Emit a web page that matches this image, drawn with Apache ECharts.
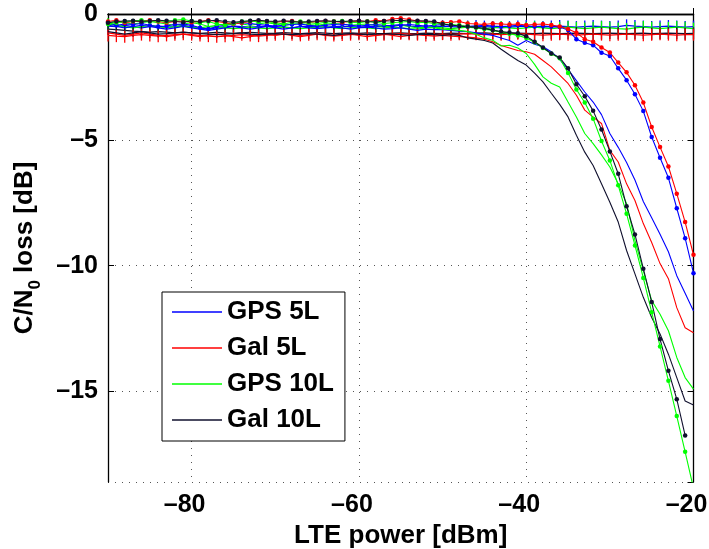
<!DOCTYPE html>
<html>
<head>
<meta charset="utf-8">
<script src="https://cdn.jsdelivr.net/npm/echarts@6/dist/echarts.min.js"></script>
<style>
html,body{margin:0;padding:0;background:#fff;}
#chart{width:709px;height:549px;}
</style>
</head>
<body>
<div id="chart"></div>
<script>
// LTE power axis (dBm)
const power = [-90,-89,-88,-87,-86,-85,-84,-83,-82,-81,
  -80,-79,-78,-77,-76,-75,-74,-73,-72,-71,
  -70,-69,-68,-67,-66,-65,-64,-63,-62,-61,
  -60,-59,-58,-57,-56,-55,-54,-53,-52,-51,
  -50,-49,-48,-47,-46,-45,-44,-43,-42,-41,
  -40,-39,-38,-37,-36,-35,-34,-33,-32,-31,
  -30,-29,-28,-27,-26,-25,-24,-23,-22,-21,
  -20];

const xTicks = [-80, -60, -40, -20];
const yTicks = [0, -5, -10, -15];
const legendNames = ['GPS 5L', 'Gal 5L', 'GPS 10L', 'Gal 10L'];

// plain curves (legend entries)
const gps5L = [-0.45,-0.50,-0.55,-0.50,-0.45,-0.50,-0.55,-0.60,-0.55,-0.50,
  -0.55,-0.60,-0.65,-0.60,-0.55,-0.50,-0.55,-0.60,-0.55,-0.50,
  -0.55,-0.60,-0.55,-0.50,-0.55,-0.58,-0.55,-0.52,-0.55,-0.60,
  -0.55,-0.52,-0.55,-0.60,-0.58,-0.55,-0.60,-0.65,-0.60,-0.62,
  -0.62,-0.65,-0.68,-0.70,-0.75,-0.80,-0.85,-0.95,-1.05,-1.24,
  -1.05,-1.20,-1.30,-1.50,-1.80,-2.20,-2.65,-3.10,-3.50,-4.00,
  -4.75,-5.30,-5.90,-6.60,-7.45,-8.10,-8.75,-9.45,-10.40,-11.10,
  -11.80];
const gal5L = [-0.75,-0.80,-0.85,-0.80,-0.75,-0.80,-0.85,-0.90,-0.85,-0.80,
  -0.85,-0.90,-0.85,-0.80,-0.85,-0.90,-0.95,-0.90,-0.85,-0.80,
  -0.85,-0.80,-0.85,-0.90,-0.85,-0.80,-0.85,-0.88,-0.85,-0.80,
  -0.85,-0.90,-0.85,-0.80,-0.85,-0.90,-0.85,-0.80,-0.85,-0.88,
  -0.85,-0.88,-0.90,-0.92,-0.95,-1.00,-1.10,-1.25,-1.35,-1.45,
  -1.50,-1.60,-1.85,-2.10,-2.43,-2.76,-3.23,-3.82,-4.10,-4.35,
  -5.42,-5.88,-6.75,-7.41,-8.33,-9.08,-9.92,-10.52,-11.67,-12.47,
  -12.67];
const gps10L = [-0.35,-0.30,-0.35,-0.40,-0.35,-0.30,-0.35,-0.40,-0.45,-0.40,
  -0.35,-0.40,-0.50,-0.45,-0.40,-0.35,-0.40,-0.45,-0.40,-0.35,
  -0.40,-0.45,-0.40,-0.38,-0.42,-0.45,-0.40,-0.38,-0.40,-0.45,
  -0.42,-0.40,-0.45,-0.50,-0.48,-0.45,-0.50,-0.55,-0.52,-0.55,
  -0.60,-0.62,-0.65,-0.70,-0.80,-0.95,-1.04,-1.27,-1.24,-1.35,
  -1.57,-2.00,-2.50,-2.75,-2.90,-3.50,-4.09,-4.75,-5.15,-5.60,
  -6.08,-6.75,-7.54,-9.00,-10.20,-11.39,-11.93,-12.59,-13.65,-14.45,
  -14.91];
const gal10L = [-0.70,-0.75,-0.80,-0.75,-0.70,-0.75,-0.80,-0.78,-0.75,-0.72,
  -0.75,-0.78,-0.80,-0.82,-0.80,-0.78,-0.75,-0.80,-0.82,-0.80,
  -0.78,-0.80,-0.82,-0.80,-0.78,-0.80,-0.82,-0.85,-0.80,-0.78,
  -0.80,-0.82,-0.80,-0.78,-0.80,-0.82,-0.85,-0.82,-0.80,-0.82,
  -0.85,-0.82,-0.85,-0.95,-1.00,-1.05,-1.15,-1.40,-1.63,-1.85,
  -2.03,-2.35,-2.70,-3.15,-3.59,-4.09,-4.82,-5.49,-6.02,-6.75,
  -7.48,-8.27,-9.40,-10.33,-11.26,-12.06,-12.72,-13.52,-14.45,-15.38,
  -15.54];

// curves with dot markers
const gps5LDots = [-0.35,-0.45,-0.40,-0.42,-0.38,-0.45,-0.50,-0.48,-0.42,-0.40,
  -0.45,-0.55,-0.60,-0.50,-0.45,-0.40,-0.35,-0.38,-0.42,-0.45,
  -0.48,-0.45,-0.42,-0.40,-0.45,-0.48,-0.45,-0.42,-0.40,-0.45,
  -0.48,-0.45,-0.42,-0.45,-0.48,-0.45,-0.42,-0.45,-0.48,-0.45,
  -0.42,-0.45,-0.48,-0.50,-0.48,-0.45,-0.48,-0.50,-0.48,-0.45,
  -0.48,-0.50,-0.48,-0.50,-0.52,-0.64,-1.00,-1.14,-1.24,-1.54,
  -1.67,-2.16,-2.63,-3.19,-3.86,-4.89,-5.71,-6.51,-7.72,-8.91,
  -10.30];
const gal5LDots = [-0.30,-0.25,-0.35,-0.30,-0.28,-0.25,-0.30,-0.35,-0.30,-0.28,
  -0.33,-0.30,-0.25,-0.30,-0.35,-0.40,-0.35,-0.30,-0.28,-0.30,
  -0.33,-0.30,-0.28,-0.32,-0.35,-0.30,-0.28,-0.30,-0.33,-0.30,
  -0.28,-0.30,-0.25,-0.28,-0.20,-0.17,-0.22,-0.28,-0.30,-0.33,
  -0.35,-0.33,-0.30,-0.38,-0.40,-0.42,-0.38,-0.40,-0.42,-0.40,
  -0.44,-0.42,-0.40,-0.44,-0.50,-0.60,-0.75,-1.00,-1.10,-1.33,
  -1.53,-1.93,-2.32,-2.83,-3.52,-4.49,-5.29,-6.06,-7.14,-8.27,
  -9.57];
const gps10LDots = [-0.40,-0.35,-0.30,-0.28,-0.25,-0.30,-0.27,-0.30,-0.25,-0.22,
  -0.28,-0.35,-0.30,-0.40,-0.45,-0.38,-0.30,-0.28,-0.32,-0.30,
  -0.35,-0.40,-0.33,-0.30,-0.35,-0.38,-0.33,-0.30,-0.28,-0.33,
  -0.35,-0.30,-0.33,-0.38,-0.35,-0.32,-0.30,-0.35,-0.33,-0.38,
  -0.40,-0.42,-0.45,-0.50,-0.55,-0.60,-0.65,-0.72,-0.78,-0.85,
  -0.95,-1.12,-1.35,-1.58,-1.76,-2.34,-3.00,-3.52,-4.16,-5.05,
  -5.82,-6.81,-7.94,-9.20,-10.49,-11.85,-13.21,-14.58,-15.98,-17.40,
  -18.85];
const gal10LDots = [-0.35,-0.30,-0.28,-0.27,-0.30,-0.28,-0.25,-0.27,-0.30,-0.33,
  -0.28,-0.30,-0.27,-0.25,-0.30,-0.33,-0.30,-0.27,-0.25,-0.28,
  -0.30,-0.27,-0.30,-0.33,-0.30,-0.28,-0.27,-0.30,-0.30,-0.28,
  -0.27,-0.30,-0.32,-0.28,-0.27,-0.25,-0.28,-0.27,-0.28,-0.30,
  -0.40,-0.44,-0.48,-0.50,-0.53,-0.57,-0.64,-0.70,-0.74,-0.77,
  -0.88,-1.10,-1.33,-1.57,-1.73,-2.16,-2.79,-3.27,-3.85,-4.59,
  -5.46,-6.35,-7.64,-8.76,-10.12,-11.45,-12.92,-14.18,-15.31,-16.75,
  null];

// flat reference curves with vertical '+' marks
const gps5LRef = [-0.48,-0.50,-0.45,-0.50,-0.55,-0.50,-0.48,-0.52,-0.50,-0.45,
  -0.50,-0.55,-0.60,-0.55,-0.50,-0.48,-0.50,-0.52,-0.50,-0.48,
  -0.50,-0.52,-0.55,-0.50,-0.48,-0.50,-0.52,-0.50,-0.48,-0.50,
  -0.52,-0.50,-0.48,-0.50,-0.45,-0.42,-0.48,-0.50,-0.52,-0.50,
  -0.48,-0.50,-0.52,-0.50,-0.48,-0.50,-0.52,-0.55,-0.52,-0.50,
  -0.48,-0.50,-0.52,-0.50,-0.48,-0.50,-0.52,-0.50,-0.48,-0.50,
  -0.52,-0.50,-0.45,-0.48,-0.50,-0.52,-0.50,-0.48,-0.50,-0.52,
  -0.50];
const gps10LRef = [-0.40,-0.45,-0.50,-0.55,-0.50,-0.45,-0.50,-0.55,-0.50,-0.48,
  -0.52,-0.55,-0.50,-0.52,-0.55,-0.58,-0.55,-0.52,-0.55,-0.58,
  -0.55,-0.52,-0.55,-0.58,-0.55,-0.52,-0.50,-0.55,-0.58,-0.55,
  -0.52,-0.55,-0.58,-0.55,-0.52,-0.55,-0.58,-0.60,-0.55,-0.52,
  -0.55,-0.58,-0.55,-0.52,-0.55,-0.58,-0.55,-0.52,-0.55,-0.58,
  -0.55,-0.52,-0.55,-0.58,-0.55,-0.52,-0.55,-0.58,-0.55,-0.52,
  -0.55,-0.58,-0.60,-0.55,-0.52,-0.55,-0.58,-0.55,-0.52,-0.55,
  -0.58];
const gal10LRef = [-0.60,-0.62,-0.65,-0.68,-0.70,-0.72,-0.70,-0.72,-0.75,-0.73,
  -0.75,-0.77,-0.75,-0.73,-0.75,-0.77,-0.75,-0.73,-0.75,-0.77,
  -0.76,-0.74,-0.76,-0.78,-0.76,-0.74,-0.76,-0.78,-0.76,-0.75,
  -0.77,-0.75,-0.77,-0.78,-0.76,-0.75,-0.77,-0.78,-0.76,-0.77,
  -0.78,-0.76,-0.77,-0.78,-0.76,-0.75,-0.77,-0.78,-0.77,-0.76,
  -0.77,-0.78,-0.76,-0.77,-0.78,-0.77,-0.76,-0.77,-0.78,-0.77,
  -0.76,-0.77,-0.78,-0.77,-0.76,-0.78,-0.77,-0.76,-0.77,-0.78,
  -0.77];
const gal5LRef = [-0.85,-0.88,-0.90,-0.85,-0.82,-0.85,-0.88,-0.85,-0.82,-0.80,
  -0.82,-0.85,-0.88,-0.90,-0.88,-0.85,-0.82,-0.85,-0.88,-0.85,
  -0.82,-0.80,-0.82,-0.85,-0.82,-0.80,-0.82,-0.85,-0.83,-0.82,
  -0.80,-0.82,-0.85,-0.82,-0.80,-0.78,-0.80,-0.82,-0.85,-0.82,
  -0.80,-0.82,-0.80,-0.78,-0.80,-0.82,-0.80,-0.82,-0.80,-0.78,
  -0.80,-0.82,-0.84,-0.82,-0.80,-0.82,-0.84,-0.82,-0.80,-0.82,
  -0.84,-0.82,-0.80,-0.82,-0.84,-0.82,-0.80,-0.82,-0.84,-0.82,
  -0.82];

const BLUE = '#0000ff', RED = '#ff0000', GREEN = '#00ff00', BLACK = '#10102e';
const FONT = "'Liberation Sans', Arial, Helvetica, sans-serif";

function pairs(vals) {
  return power.map((x, i) => [x, vals[i]]);
}
function minusFmt(v) {
  return String(v).replace('-', '\u2013');
}

function refSeries(name, vals, color) {
  return {
    type: 'line', name: name, data: pairs(vals), z: 2,
    symbol: 'rect', symbolSize: [1.3, 12], showAllSymbol: true,
    lineStyle: { width: 1.2, color: color }, itemStyle: { color: color },
    silent: true, animation: false
  };
}
function plainSeries(name, vals, color) {
  return {
    type: 'line', name: name, data: pairs(vals), z: 3,
    symbol: 'none', showSymbol: false,
    lineStyle: { width: 1.1, color: color }, itemStyle: { color: color },
    silent: true, animation: false
  };
}
function dotSeries(name, vals, color) {
  return {
    type: 'line', name: name, data: pairs(vals), z: 4,
    symbol: 'circle', symbolSize: 4.5, showAllSymbol: true,
    lineStyle: { width: 1.1, color: color }, itemStyle: { color: color },
    silent: true, animation: false
  };
}

const chart = echarts.init(document.getElementById('chart'), null, { renderer: 'canvas' });

const axisCommon = {
  axisLine: { show: true, lineStyle: { color: '#000', width: 1.3 } },
  axisTick: { show: true, inside: true, length: 6, lineStyle: { color: '#000', width: 1 } }
};

const option = {
  backgroundColor: '#fff',
  animation: false,
  grid: { left: 108, right: 15.5, top: 14, bottom: 67, outerBoundsMode: 'none', containLabel: false },
  legend: {
    data: legendNames.map(n => ({ name: n, icon: 'rect' })),
    orient: 'vertical',
    left: 162, top: 292,
    padding: [7, 11, 8, 10],
    itemGap: 10,
    itemWidth: 50, itemHeight: 1.3,
    borderColor: '#000', borderWidth: 1, backgroundColor: '#fff',
    selectedMode: false,
    textStyle: { fontFamily: FONT, fontWeight: 'bold', fontSize: 26, color: '#000', lineHeight: 26 }
  },
  xAxis: [
    Object.assign({
      type: 'value', min: -90, max: -20, minInterval: 20, maxInterval: 20, splitNumber: 4,
      position: 'bottom',
      name: 'LTE power [dBm]', nameLocation: 'middle', nameGap: 35,
      nameTextStyle: { fontFamily: FONT, fontWeight: 'bold', fontSize: 26, color: '#000' },
      axisLabel: {
        show: true, margin: 11, showMinLabel: false,
        padding: [0, 14, 0, 0],
        fontFamily: FONT, fontWeight: 'bold', fontSize: 25, color: '#000',
        formatter: v => xTicks.indexOf(v) >= 0 ? minusFmt(v) : ''
      },
      splitLine: { show: true, lineStyle: { color: '#555', width: 1, type: [1, 6] } }
    }, axisCommon),
    Object.assign({
      type: 'value', min: -90, max: -20, minInterval: 20, maxInterval: 20, splitNumber: 4,
      position: 'top', axisLabel: { show: false }, splitLine: { show: false }
    }, axisCommon)
  ],
  yAxis: [
    Object.assign({
      type: 'value', min: -18.6, max: 0, minInterval: 5, maxInterval: 5, splitNumber: 4,
      position: 'left',
      name: '{m|C/N}{s|0}{m| loss [dB]}', nameLocation: 'middle', nameGap: 50,
      nameTextStyle: {
        fontFamily: FONT, fontWeight: 'bold', fontSize: 26, color: '#000',
        rich: {
          m: { fontFamily: FONT, fontWeight: 'bold', fontSize: 26, color: '#000', lineHeight: 30, verticalAlign: 'top' },
          s: { fontFamily: FONT, fontWeight: 'bold', fontSize: 17, color: '#000', lineHeight: 46, verticalAlign: 'middle' }
        }
      },
      axisLabel: {
        show: true, margin: 10, showMinLabel: false,
        fontFamily: FONT, fontWeight: 'bold', fontSize: 25, color: '#000',
        formatter: v => yTicks.indexOf(v) >= 0 ? minusFmt(v) : ''
      },
      splitLine: { show: true, lineStyle: { color: '#555', width: 1, type: [1, 6] } }
    }, axisCommon),
    Object.assign({
      type: 'value', min: -18.6, max: 0, minInterval: 5, maxInterval: 5, splitNumber: 4,
      position: 'right', axisLabel: { show: false }, splitLine: { show: false }
    }, axisCommon)
  ],
  series: [
    refSeries('GPS 5L ref', gps5LRef, BLUE),
    refSeries('GPS 10L ref', gps10LRef, GREEN),
    refSeries('Gal 10L ref', gal10LRef, BLACK),
    refSeries('Gal 5L ref', gal5LRef, RED),
    plainSeries('GPS 5L', gps5L, BLUE),
    plainSeries('Gal 5L', gal5L, RED),
    plainSeries('GPS 10L', gps10L, GREEN),
    plainSeries('Gal 10L', gal10L, BLACK),
    dotSeries('GPS 5L dots', gps5LDots, BLUE),
    dotSeries('Gal 5L dots', gal5LDots, RED),
    dotSeries('GPS 10L dots', gps10LDots, GREEN),
    dotSeries('Gal 10L dots', gal10LDots, BLACK)
  ]
};
chart.setOption(option);
</script>
</body>
</html>
